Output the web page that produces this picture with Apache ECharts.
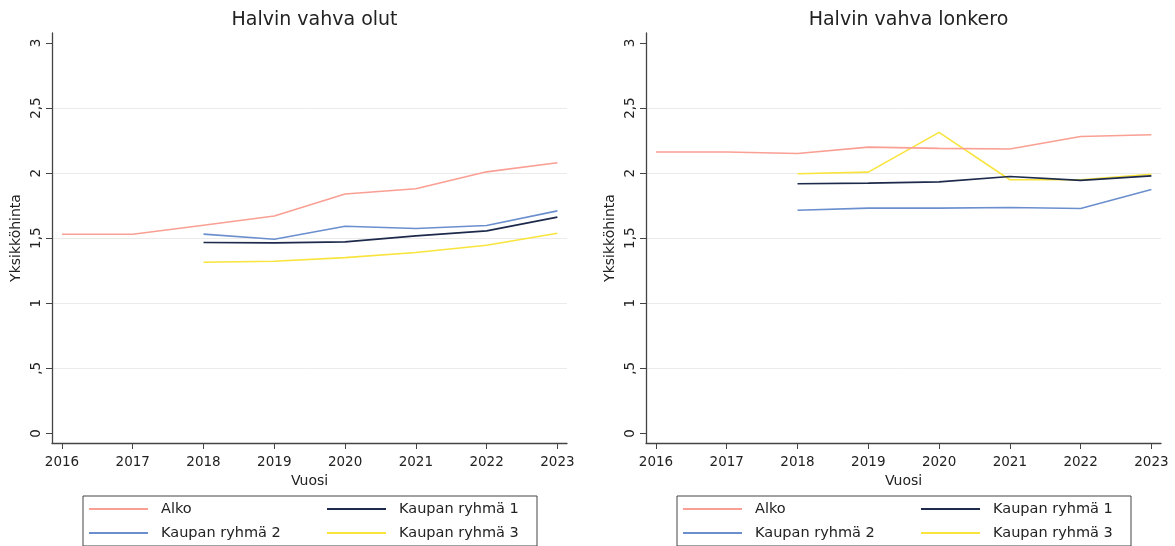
<!DOCTYPE html>
<html>
<head>
<meta charset="utf-8">
<script src="https://cdn.jsdelivr.net/npm/echarts@6/dist/echarts.min.js"></script>
<style>
html,body{margin:0;padding:0;background:#fff;}
#chart{width:1175px;height:546px;}
</style>
</head>
<body>
<div id="chart"></div>
<script>
const years = [2016, 2017, 2018, 2019, 2020, 2021, 2022, 2023];
const yTicks = [0, 0.5, 1, 1.5, 2, 2.5, 3];
const panelTitles = ['Halvin vahva olut', 'Halvin vahva lonkero'];
const seriesNames = ['Alko', 'Kaupan ryhmä 1', 'Kaupan ryhmä 2', 'Kaupan ryhmä 3'];

// Halvin vahva olut
const olutAlko = [1.53, 1.53, 1.60, 1.67, 1.84, 1.88, 2.01, 2.08];
const olutK1   = [null, null, 1.467, 1.464, 1.472, 1.518, 1.556, 1.662];
const olutK2   = [null, null, 1.531, 1.492, 1.592, 1.574, 1.597, 1.71];
const olutK3   = [null, null, 1.315, 1.323, 1.351, 1.39, 1.446, 1.538];

// Halvin vahva lonkero
const lonkAlko = [2.162, 2.162, 2.151, 2.20, 2.19, 2.185, 2.282, 2.295];
const lonkK1   = [null, null, 1.918, 1.923, 1.933, 1.974, 1.944, 1.979];
const lonkK2   = [null, null, 1.715, 1.731, 1.731, 1.736, 1.728, 1.874];
const lonkK3   = [null, null, 1.995, 2.008, 2.313, 1.949, 1.949, 1.992];

const colors = ['#fa9f93', '#1d2a4b', '#6b8fce', '#f8e43c'];
const FONT = 'DejaVu Sans';

const panels = [
  { data: [olutAlko, olutK1, olutK2, olutK3], left: 52 },
  { data: [lonkAlko, lonkK1, lonkK2, lonkK3], left: 646 }
];
const gridW = 515;

function pairs(vals) { return years.map((y, i) => [y, vals[i]]); }
function yFmt(v) {
  let s = String(Math.round(v * 10) / 10);
  if (s.startsWith('0.')) s = s.slice(1);
  return s.replace('.', ',');
}

const option = {
  backgroundColor: '#fff',
  animation: false,
  title: panels.map((p, i) => ({
    text: panelTitles[i],
    left: p.left + gridW / 2,
    textAlign: 'center',
    top: 6,
    textStyle: { fontFamily: FONT, fontSize: 19, fontWeight: 'normal', color: '#222' }
  })),
  grid: panels.map(p => ({ left: p.left, width: gridW, top: 33, height: 410, containLabel: false })),
  xAxis: panels.map((p, i) => ({
    type: 'value', gridIndex: i,
    min: 2015.859, max: 2023.136,
    name: 'Vuosi', nameLocation: 'middle', nameGap: 28,
    nameTextStyle: { fontFamily: FONT, fontSize: 14, color: '#222' },
    axisLine: { onZero: false, lineStyle: { color: '#444', width: 1.3 } },
    axisTick: { customValues: years, length: 6, lineStyle: { color: '#444' } },
    axisLabel: { customValues: years, formatter: v => String(v), fontFamily: FONT, fontSize: 13.5, color: '#222', margin: 12 },
    splitLine: { show: false }
  })),
  yAxis: panels.map((p, i) => ({
    type: 'value', gridIndex: i,
    min: -0.074, max: 3.077,
    name: 'Yksikköhinta', nameLocation: 'middle', nameGap: 29, nameRotate: 90,
    nameTextStyle: { fontFamily: FONT, fontSize: 14, color: '#222' },
    axisLine: { show: true, onZero: false, lineStyle: { color: '#444', width: 1.3 } },
    axisTick: { show: true, customValues: yTicks, length: 6, lineStyle: { color: '#444' } },
    axisLabel: { customValues: yTicks, formatter: yFmt, rotate: 90, fontFamily: FONT, fontSize: 13.5, color: '#222', margin: 9 },
    splitLine: { show: true, showMinLine: false, showMaxLine: false, lineStyle: { color: '#ebebeb', width: 1 } }
  })),
  legend: panels.map((p, i) => ({
    left: p.left + 31,
    top: 496,
    width: 456,
    orient: 'horizontal',
    padding: [5, 6, 5, 6],
    itemGap: 8,
    itemWidth: 59,
    itemHeight: 2,
    icon: 'rect',
    borderColor: '#444',
    borderWidth: 1,
    textStyle: { fontFamily: FONT, fontSize: 14.5, color: '#222', lineHeight: 16, padding: [0, 0, 0, 8] },
    data: seriesNames.map((n, k) => ({
      name: n,
      textStyle: { width: (k % 2 === 0) ? 158 : 132 }
    }))
  })),
  series: []
};

panels.forEach((p, i) => {
  p.data.forEach((vals, k) => {
    option.series.push({
      type: 'line',
      name: seriesNames[k],
      xAxisIndex: i, yAxisIndex: i,
      data: pairs(vals),
      showSymbol: false,
      symbol: 'none',
      connectNulls: false,
      lineStyle: { color: colors[k], width: 1.6 },
      itemStyle: { color: colors[k] },
      z: 10 - k
    });
  });
});

const chart = echarts.init(document.getElementById('chart'), null, { renderer: 'canvas' });
chart.setOption(option);
</script>
</body>
</html>
